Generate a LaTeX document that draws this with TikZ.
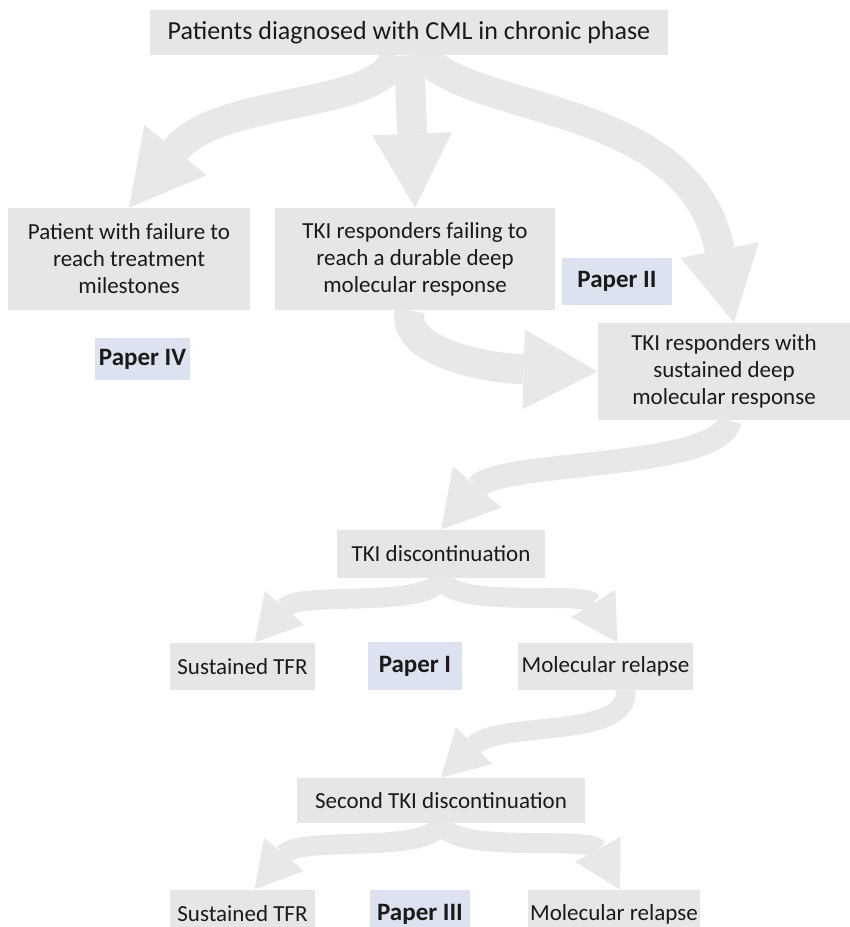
\documentclass[tikz,border=0pt]{standalone}
\usepackage{fontspec}
\setmainfont{Carlito}
\usetikzlibrary{arrows.meta,positioning,calc,backgrounds}
\definecolor{boxgray}{HTML}{E8E5E5}
\definecolor{arrowgray}{HTML}{EAE7E7}
\definecolor{paperblue}{HTML}{DCE2F0}
\definecolor{textdark}{HTML}{1A1A1A}

\begin{document}
\begin{tikzpicture}[x=0.5pt,y=-0.5pt,
  box/.style={fill=boxgray,text=textdark,align=center,inner sep=0pt,
    font=\fontsize{11.5}{13.5}\selectfont},
  paper/.style={fill=paperblue,text=textdark,align=center,inner sep=0pt,
    font=\fontsize{12.5}{14}\selectfont\bfseries},
  bigarrow/.style={draw=arrowgray,line width=15pt,
    -{Triangle[length=37pt,width=40pt,line width=0pt]}},
  midarrow/.style={draw=arrowgray,line width=12pt,
    -{Triangle[length=28pt,width=32pt,line width=0pt]}},
  smallarrow/.style={draw=arrowgray,line width=10pt,
    -{Triangle[length=23pt,width=26pt,line width=0pt]}}]

  \useasboundingbox (0,0) rectangle (850,927);

  % ---- Boxes -------------------------------------------------
  \node[box,minimum width=259pt,minimum height=22.5pt,
        font=\fontsize{13}{15}\selectfont] (top) at (409,32.5)
    {Patients diagnosed with CML in chronic phase};

  \node[box,minimum width=121pt,minimum height=51pt] (fail) at (129,259)
    {Patient with failure to\\reach treatment\\milestones};
  \node[box,minimum width=140pt,minimum height=51pt] (durable) at (415,259)
    {TKI responders failing to\\reach a durable deep\\molecular response};
  \node[paper,minimum width=55pt,minimum height=23.5pt] (paper2) at (617,281.5) {Paper II};
  \node[paper,minimum width=47.5pt,minimum height=21pt] (paper4) at (142.5,359) {Paper IV};

  \node[box,minimum width=126pt,minimum height=48.5pt] (sustained) at (724,371.5)
    {TKI responders with\\sustained deep\\molecular response};

  \node[box,minimum width=104pt,minimum height=24pt] (disc) at (441,554)
    {TKI discontinuation};

  \node[box,minimum width=72.5pt,minimum height=23.5pt] (tfr1) at (242.5,666.5)
    {Sustained TFR};
  \node[paper,minimum width=47pt,minimum height=24pt] (paper1) at (415,666) {Paper I};
  \node[box,minimum width=87.5pt,minimum height=23.5pt] (relapse1) at (605.5,666.5)
    {Molecular relapse};

  \node[box,minimum width=144pt,minimum height=22.5pt] (second) at (441,800.5)
    {Second TKI discontinuation};

  \node[box,minimum width=72.5pt,minimum height=24pt] (tfr2) at (242.5,914)
    {Sustained TFR};
  \node[paper,minimum width=50pt,minimum height=24pt] (paper3) at (420,914) {Paper III};
  \node[box,minimum width=86pt,minimum height=24pt] (relapse2) at (614,914)
    {Molecular relapse};

  % ---- Flow arrows (behind the boxes) ------------------------
  \begin{scope}[on background layer]
    \draw[bigarrow] ($(top.south)+(-14,0)$) .. controls (385,110) and (220,95) .. (fail.north);
    \draw[bigarrow] ($(top.south)+(0,0)$) -- (durable.north);
    \draw[bigarrow] ($(top.south)+(14,0)$) .. controls (470,115) and (690,100) .. ($(sustained.north)+(10,0)$);
    \draw[bigarrow] ($(durable.south)+(-5,0)$) .. controls (400,350) and (480,368) .. (sustained.west);
    \draw[midarrow] ($(sustained.south)+(6,0)$) .. controls (720,470) and (500,460) .. (disc.north);
    \draw[smallarrow] (disc.south) .. controls (430,610) and (300,590) .. ($(tfr1.north)+(12,0)$);
    \draw[smallarrow] (disc.south) .. controls (452,610) and (585,590) .. ($(relapse1.north)+(12,0)$);
    \draw[smallarrow] ($(relapse1.south)+(20,0)$) .. controls (630,740) and (500,720) .. (second.north);
    \draw[smallarrow] (second.south) .. controls (430,855) and (300,835) .. ($(tfr2.north)+(12,0)$);
    \draw[smallarrow] (second.south) .. controls (452,855) and (590,835) .. ($(relapse2.north)+(6,0)$);
  \end{scope}

\end{tikzpicture}
\end{document}
